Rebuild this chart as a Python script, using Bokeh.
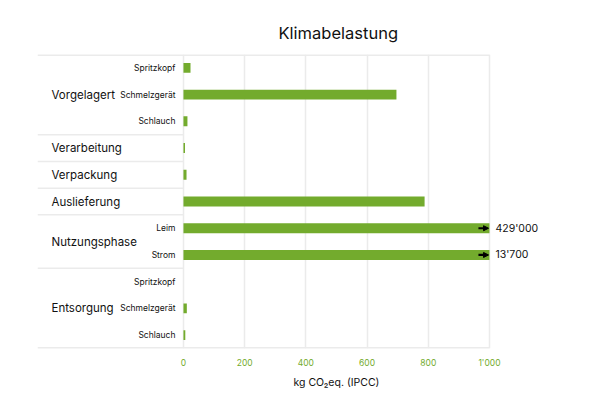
import numpy as np

from bokeh.plotting import figure
from bokeh.models import Range1d, FixedTicker, Title, Arrow, NormalHead
from bokeh.core.properties import value
from bokeh.embed import file_html
from bokeh.resources import INLINE

groups = ["Vorgelagert", "Verarbeitung", "Verpackung", "Auslieferung",
          "Nutzungsphase", "Entsorgung"]
row_group = [0, 0, 0, 1, 2, 3, 4, 4, 5, 5, 5]
row_items = ["Spritzkopf", "Schmelzgerät", "Schlauch", "", "", "",
             "Leim", "Strom", "Spritzkopf", "Schmelzgerät", "Schlauch"]
co2 = [23, 696, 13, 5, 10, 788, 429000, 13700, 0, 11, 6]

x_ticks = [0, 200, 400, 600, 800, 1000]
x_tick_labels = ["0", "200", "400", "600", "800", "1'000"]
x_max = 1000
chart_title = "Klimabelastung"
x_label = "kg CO₂eq. (IPCC)"

FONT = "Inter"
GREEN = "#73ab2d"
GRID = "#ebebeb"
TEXT = "#111111"

n = len(co2)
rows = np.arange(n) + 0.5
shown = np.minimum(co2, x_max)
over = [i for i, v in enumerate(co2) if v > x_max]

x_start = -477
# title and axis label sit centred over 0..1000, not over the whole frame,
# so they are left aligned with an offset
title = Title(text=chart_title, align="left", offset=241, standoff=24,
              text_font=FONT, text_font_size="16.5px", text_font_style="normal",
              text_color=TEXT)
p = figure(width=580, height=392, title=title,
           x_range=Range1d(x_start, 1206), y_range=Range1d(n, 0),
           y_axis_location=None,
           min_border_left=37, min_border_right=28,
           min_border_top=54, min_border_bottom=44,
           outline_line_color=None, background_fill_color="white",
           output_backend="svg", toolbar_location=None)

# x axis: only labels, green
p.xaxis.ticker = FixedTicker(ticks=x_ticks)
p.xaxis.major_label_overrides = dict(zip(x_ticks, x_tick_labels))
p.xaxis.axis_line_color = None
p.xaxis.major_tick_line_color = None
p.xaxis.minor_tick_line_color = None
p.xaxis.major_label_standoff = 3
p.xaxis.major_label_text_color = GREEN
p.xaxis.major_label_text_font = FONT
p.xaxis.major_label_text_font_size = "8.5px"

p.add_layout(Title(text=x_label, align="left", offset=256, standoff=6,
                   text_font=FONT, text_font_size="10.5px",
                   text_font_style="normal", text_color=TEXT), "below")

p.xgrid.ticker = FixedTicker(ticks=x_ticks)
p.xgrid.grid_line_color = GRID
p.xgrid.grid_line_width = 1.5
p.ygrid.grid_line_color = None

# group separators
bounds = [0] + [i for i in range(1, n) if row_group[i] != row_group[i - 1]] + [n]
inner = bounds[1:-1]
p.segment(x0=[x_start] * len(inner), y0=inner, x1=[0] * len(inner), y1=inner,
          line_color=GRID, line_width=1.5)
p.segment(x0=[x_start, x_start], y0=[0, n], x1=[x_max, x_max], y1=[0, n],
          line_color=GRID, line_width=3)

# group labels and item labels
group_y = [rows[[i for i in range(n) if row_group[i] == g]].mean()
           for g in range(len(groups))]
p.text(x=[x_start] * len(groups), y=group_y, text=groups, x_offset=14,
       text_align="left", text_baseline="middle", text_color=TEXT,
       text_font=value(FONT), text_font_size="11.5px")
p.text(x=[0] * n, y=rows, text=row_items, x_offset=-8,
       text_align="right", text_baseline="middle", text_color=TEXT,
       text_font=value(FONT), text_font_size="8.5px")

# bars
p.hbar(y=rows, left=0, right=shown, height=0.37,
       fill_color=GREEN, line_color=None)

# bars beyond the axis: arrow and true value
for i in over:
    p.add_layout(Arrow(end=NormalHead(size=5, fill_color="black", line_color="black"),
                       x_start=x_max - 36, x_end=x_max - 3,
                       y_start=rows[i], y_end=rows[i],
                       line_color="black", line_width=2.2))
p.text(x=[x_max] * len(over), y=rows[over],
       text=[f"{co2[i]:,}".replace(",", "'") for i in over], x_offset=6,
       text_align="left", text_baseline="middle", text_color=TEXT,
       text_font=value(FONT), text_font_size="10.5px")

open("out.html", "w").write(file_html(p, INLINE))
